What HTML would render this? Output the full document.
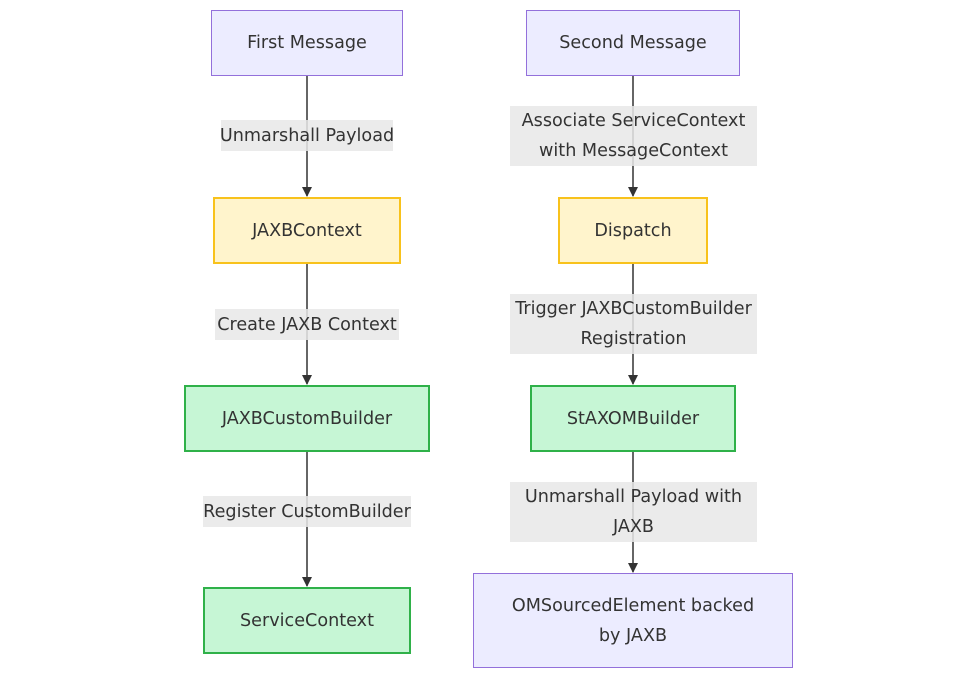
<!DOCTYPE html>
<html><head><style>
html,body{margin:0;padding:0;background:#fff;}
body{width:978px;height:679px;position:relative;overflow:hidden;font-family:"DejaVu Sans","Liberation Sans",sans-serif;font-size:17.6px;color:#333;}
.n{position:absolute;box-sizing:border-box;display:flex;align-items:center;justify-content:center;text-align:center;line-height:30px;border:2px solid;}
.p{background:#ececff;border-color:#9370db;border-width:1.5px;}
.y{background:#fff4cc;border-color:#f8c21c;}
.g{background:#c6f6d5;border-color:#2fb149;}
.l{position:absolute;box-sizing:border-box;background:rgba(232,232,232,0.85);display:flex;align-items:center;justify-content:center;text-align:center;line-height:30px;white-space:nowrap;}
svg{position:absolute;left:0;top:0;}
</style></head><body>
<svg width="978" height="679">
<defs><marker id="a" markerWidth="10" markerHeight="10" refX="9" refY="5" orient="auto" markerUnits="userSpaceOnUse"><path d="M0,0 L10,5 L0,10 z" fill="#333"/></marker></defs>
<g stroke="#333" stroke-width="1.5" fill="none" marker-end="url(#a)">
<line x1="307" y1="76" x2="307" y2="196"/>
<line x1="307" y1="264" x2="307" y2="384"/>
<line x1="307" y1="452" x2="307" y2="586"/>
<line x1="633" y1="76" x2="633" y2="196"/>
<line x1="633" y1="264" x2="633" y2="384"/>
<line x1="633" y1="452" x2="633" y2="572"/>
</g></svg>
<div class="n p" style="left:211px;top:10px;width:192px;height:66px;">First Message</div>
<div class="l" style="left:221px;top:120px;width:172px;height:31px;">Unmarshall Payload</div>
<div class="n y" style="left:213px;top:197px;width:188px;height:67px;">JAXBContext</div>
<div class="l" style="left:215px;top:309px;width:184px;height:31px;">Create JAXB Context</div>
<div class="n g" style="left:184px;top:385px;width:246px;height:67px;">JAXBCustomBuilder</div>
<div class="l" style="left:203px;top:496px;width:208px;height:31px;">Register CustomBuilder</div>
<div class="n g" style="left:203px;top:587px;width:208px;height:67px;">ServiceContext</div>

<div class="n p" style="left:526px;top:10px;width:214px;height:66px;">Second Message</div>
<div class="l" style="left:510px;top:106px;width:247px;height:60px;">Associate ServiceContext<br>with MessageContext</div>
<div class="n y" style="left:558px;top:197px;width:150px;height:67px;">Dispatch</div>
<div class="l" style="left:510px;top:294px;width:247px;height:60px;">Trigger JAXBCustomBuilder<br>Registration</div>
<div class="n g" style="left:530px;top:385px;width:206px;height:67px;">StAXOMBuilder</div>
<div class="l" style="left:510px;top:482px;width:247px;height:60px;">Unmarshall Payload with<br>JAXB</div>
<div class="n p" style="left:473px;top:573px;width:320px;height:95px;">OMSourcedElement backed<br>by JAXB</div>
</body></html>
